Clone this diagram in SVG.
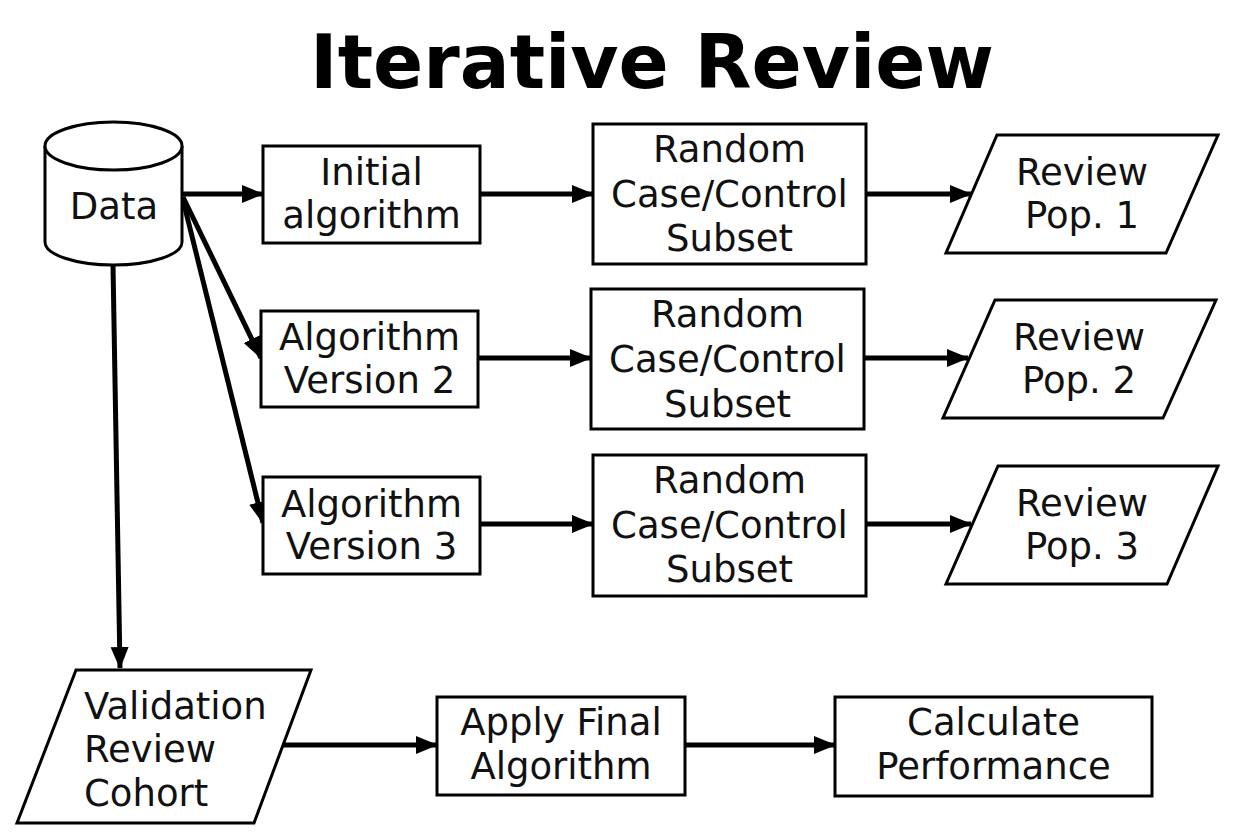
<svg xmlns="http://www.w3.org/2000/svg" width="1255" height="837" viewBox="0 0 1255 837">
<style>
.shape{fill:#fff;stroke:#000;stroke-width:3}
.lbl{font-family:"DejaVu Sans",sans-serif;font-size:37px;fill:#111;text-anchor:middle}
.left{text-anchor:start}
.title{font-family:"DejaVu Sans",sans-serif;font-size:74px;font-weight:bold;fill:#000;text-anchor:middle}
.conn{stroke:#000;stroke-width:5;fill:none;marker-end:url(#arr)}
</style>
<defs>
<marker id="arr" markerUnits="userSpaceOnUse" markerWidth="22" markerHeight="20" refX="21" refY="10" orient="auto">
<path d="M0,1 L22,10 L0,19 z" fill="#000"/>
</marker>
</defs>
<rect width="1255" height="837" fill="#fff"/>
<text class="title" x="652" y="88">Iterative Review</text>

<g id="connectors">
<line class="conn" x1="182" y1="194" x2="263" y2="194"/>
<line class="conn" x1="183" y1="197" x2="261" y2="358"/>
<line class="conn" x1="183" y1="200" x2="263" y2="523"/>
<line class="conn" x1="113" y1="265" x2="120" y2="668"/>
<line class="conn" x1="480" y1="194" x2="593" y2="194"/>
<line class="conn" x1="866" y1="194" x2="971" y2="194"/>
<line class="conn" x1="478" y1="358" x2="591" y2="358"/>
<line class="conn" x1="864" y1="358" x2="968" y2="358"/>
<line class="conn" x1="480" y1="524" x2="593" y2="524"/>
<line class="conn" x1="866" y1="524" x2="971" y2="524"/>
<line class="conn" x1="283" y1="745" x2="437" y2="745"/>
<line class="conn" x1="685" y1="745" x2="835" y2="745"/>
</g>

<g id="data">
<path class="shape" d="M45,146 L45,242 A68.5,23 0 0 0 182,242 L182,146 A68.5,24 0 0 0 45,146 Z"/>
<path class="shape" d="M45,146 A68.5,24 0 0 0 182,146" fill="none"/>
<text class="lbl" x="114" y="219">Data</text>
</g>

<g id="initial">
<rect class="shape" x="263" y="146" width="217" height="97"/>
<text class="lbl" x="371.5" y="185">Initial</text>
<text class="lbl" x="371.5" y="228">algorithm</text>
</g>

<g id="alg2">
<rect class="shape" x="261" y="311" width="217" height="96"/>
<text class="lbl" x="369.5" y="350">Algorithm</text>
<text class="lbl" x="369.5" y="393">Version 2</text>
</g>

<g id="alg3">
<rect class="shape" x="263" y="477" width="217" height="97"/>
<text class="lbl" x="371.5" y="517">Algorithm</text>
<text class="lbl" x="371.5" y="559">Version 3</text>
</g>

<g id="random1">
<rect class="shape" x="593" y="124" width="273" height="140"/>
<text class="lbl" x="729.5" y="162">Random</text>
<text class="lbl" x="729.5" y="207">Case/Control</text>
<text class="lbl" x="729.5" y="251">Subset</text>
</g>

<g id="random2">
<rect class="shape" x="591" y="289" width="273" height="140"/>
<text class="lbl" x="727.5" y="327">Random</text>
<text class="lbl" x="727.5" y="372">Case/Control</text>
<text class="lbl" x="727.5" y="417">Subset</text>
</g>

<g id="random3">
<rect class="shape" x="593" y="455" width="273" height="141"/>
<text class="lbl" x="729.5" y="493">Random</text>
<text class="lbl" x="729.5" y="538">Case/Control</text>
<text class="lbl" x="729.5" y="582">Subset</text>
</g>

<g id="review1">
<polygon class="shape" points="997,135 1218,135 1166,253 946,253"/>
<text class="lbl" x="1082" y="185">Review</text>
<text class="lbl" x="1082" y="228">Pop. 1</text>
</g>

<g id="review2">
<polygon class="shape" points="995,300 1216,300 1163,418 943,418"/>
<text class="lbl" x="1079" y="350">Review</text>
<text class="lbl" x="1079" y="393">Pop. 2</text>
</g>

<g id="review3">
<polygon class="shape" points="998,466 1218,466 1167,584 946,584"/>
<text class="lbl" x="1082" y="516">Review</text>
<text class="lbl" x="1082" y="559">Pop. 3</text>
</g>

<g id="validation">
<polygon class="shape" points="76,670 311,670 254,823 17,823"/>
<text class="lbl left" x="84" y="719">Validation</text>
<text class="lbl left" x="84" y="762">Review</text>
<text class="lbl left" x="84" y="806">Cohort</text>
</g>

<g id="apply">
<rect class="shape" x="437" y="697" width="248" height="98"/>
<text class="lbl" x="561" y="735">Apply Final</text>
<text class="lbl" x="561" y="779">Algorithm</text>
</g>

<g id="calculate">
<rect class="shape" x="835" y="697" width="317" height="99"/>
<text class="lbl" x="993.5" y="735">Calculate</text>
<text class="lbl" x="993.5" y="779">Performance</text>
</g>
</svg>
